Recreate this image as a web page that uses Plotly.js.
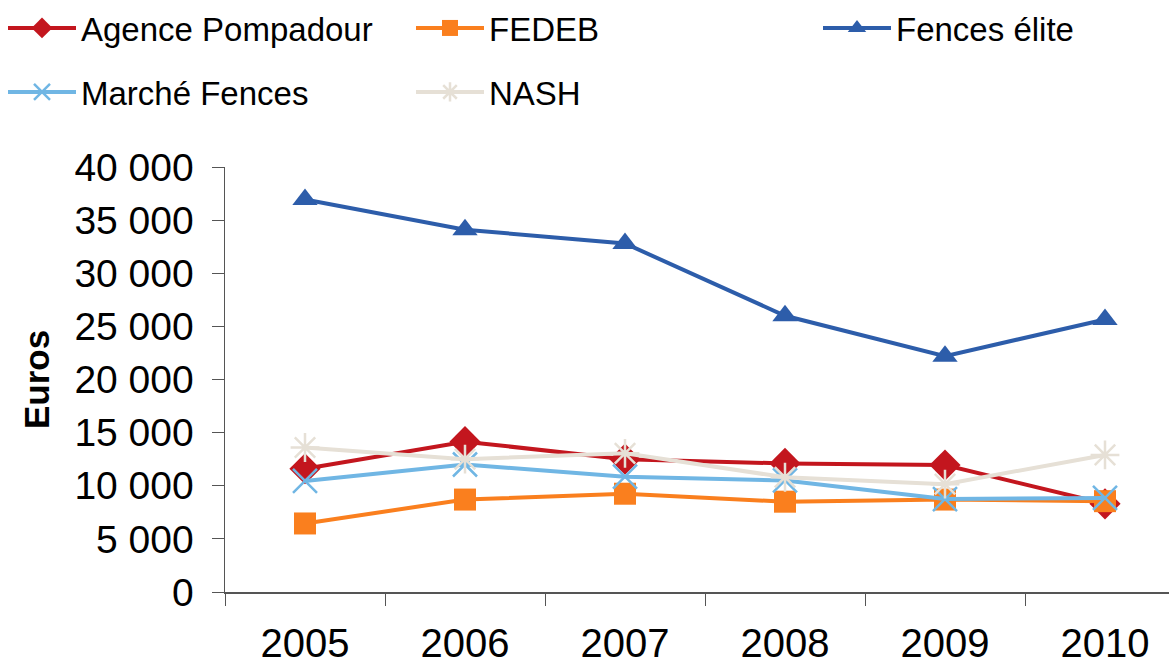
<!DOCTYPE html>
<html>
<head>
<meta charset="utf-8">
<script src="https://cdn.plot.ly/plotly-3.0.1.min.js"></script>
<style>html,body{margin:0;padding:0;background:#fff;}#chart{width:1169px;height:662px;}</style>
</head>
<body>
<div id="chart"></div>
<script>
const years = ["2005", "2006", "2007", "2008", "2009", "2010"];
const seriesNames = ["Agence Pompadour", "FEDEB", "Fences élite", "Marché Fences", "NASH"];
const agencePompadour = [11600, 14150, 12500, 12100, 11950, 8300];
const fedeb = [6450, 8700, 9250, 8500, 8700, 8550];
const fencesElite = [36950, 34100, 32800, 26000, 22200, 25650];
const marcheFences = [10450, 12000, 10850, 10500, 8750, 8850];
const nash = [13600, 12500, 13050, 10800, 10150, 12900];
const yTicks = [0, 5000, 10000, 15000, 20000, 25000, 30000, 35000, 40000];

const FONT = "Liberation Sans, Arial, sans-serif";
const values = [agencePompadour, fedeb, fencesElite, marcheFences, nash];
const colors = ["#C3161E", "#FA7F1E", "#2D5DAA", "#70B6E4", "#E6E0D6"];
const symbols = ["diamond", "square", "triangle-up", "x-thin-open", "asterisk-open"];
const sizes = [24, 22, 22, 24, 24];
const legendIds = ["legend", "legend2", "legend3", "legend4", "legend5"];

const traces = seriesNames.map((name, i) => {
  const open = symbols[i].endsWith("open");
  return {
    type: "scatter",
    mode: "lines+markers",
    name: name,
    x: years,
    y: values[i],
    legend: legendIds[i],
    line: {color: colors[i], width: 4},
    marker: {
      symbol: symbols[i],
      size: sizes[i],
      color: colors[i],
      line: {color: colors[i], width: open ? 2.5 : 0}
    }
  };
});

const legendBase = {
  xref: "container", yref: "container",
  xanchor: "left", yanchor: "middle",
  orientation: "h",
  bgcolor: "rgba(0,0,0,0)",
  font: {family: FONT, size: 33, color: "#000"},
  itemwidth: 68
};
function lg(x, y) { return Object.assign({}, legendBase, {x: x, y: y}); }

const layout = {
  width: 1169, height: 662,
  margin: {l: 225, r: 0, t: 167, b: 70, autoexpand: false},
  paper_bgcolor: "#fff", plot_bgcolor: "#fff",
  separators: ", ",
  font: {family: FONT, color: "#000"},
  showlegend: true,
  legend: lg(3 / 1169, 1 - 28 / 662),
  legend2: lg(411 / 1169, 1 - 28 / 662),
  legend3: lg(818 / 1169, 1 - 28 / 662),
  legend4: lg(3 / 1169, 1 - 92 / 662),
  legend5: lg(411 / 1169, 1 - 92 / 662),
  xaxis: {
    type: "category",
    range: [-0.5, 5.4],
    tickson: "boundaries",
    tickangle: 0,
    automargin: false,
    ticks: "outside", ticklen: 12, tickwidth: 1, tickcolor: "#555",
    showline: true, linecolor: "#555", linewidth: 1.5,
    showgrid: false, zeroline: false,
    tickfont: {family: FONT, size: 40, color: "#000"},
    ticklabelstandoff: 15
  },
  yaxis: {
    range: [0, 40000],
    tickvals: yTicks,
    tickformat: ",",
    automargin: false,
    ticks: "outside", ticklen: 12, tickwidth: 1, tickcolor: "#555",
    showline: true, linecolor: "#555", linewidth: 1.5,
    showgrid: false, zeroline: false,
    tickfont: {family: FONT, size: 39, color: "#000"},
    ticklabelstandoff: 10,
    title: {text: "<b>Euros</b>", font: {family: FONT, size: 35, color: "#000"}, standoff: 14}
  }
};

Plotly.newPlot("chart", traces, layout, {displayModeBar: false, staticPlot: true});
</script>
</body>
</html>
